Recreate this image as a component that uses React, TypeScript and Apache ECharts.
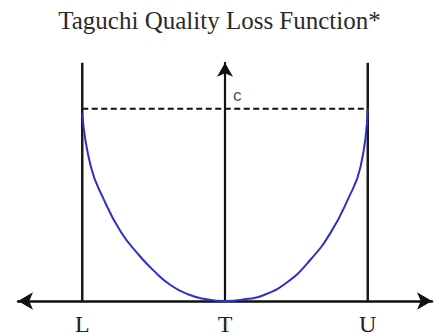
import React, { useEffect, useRef } from "react";
import * as echarts from "echarts";

const titleText = "Taguchi Quality Loss Function*";
const xTickValues = [-1, 0, 1];
const xTickLabels = ["L", "T", "U"];
const limitX = [-1, 1];
const cLevel = 1;
const limitTop = 1.24;
const curveX = [-1, -0.94, -0.85, -0.73, -0.61, -0.5, -0.38, -0.26, -0.15, 0, 0.15, 0.27, 0.44, 0.6, 0.74, 0.86, 0.95, 1];
const curveY = [0.975, 0.7, 0.53, 0.36, 0.245, 0.158, 0.082, 0.035, 0.012, 0, 0.01, 0.03, 0.1, 0.216, 0.356, 0.528, 0.7, 1.0];
const cLabel = "c";

export default function App() {
  const ref = useRef<HTMLDivElement>(null);
  useEffect(() => {
    if (!ref.current) return;
    const chart = echarts.init(ref.current, null, { renderer: "svg" });
    const serif = "'Liberation Serif', 'Times New Roman', serif";
    const limitSeries = limitX.map((x) => ({
      type: "line",
      data: [[x, 0], [x, limitTop]],
      symbol: "none",
      lineStyle: { color: "#1a1a1a", width: 2.5 },
      z: 3,
    }));
    chart.setOption({
      animation: false,
      title: {
        text: titleText,
        left: "center",
        top: 8,
        padding: 0,
        textStyle: { fontFamily: serif, fontSize: 25, fontWeight: "normal", color: "#2a2a2a" },
      },
      grid: { left: 18, right: 7, top: 62.75, bottom: 34.3 },
      xAxis: {
        type: "value",
        min: -1.45,
        max: 1.45,
        splitLine: { show: false },
        axisTick: { show: false },
        axisLine: {
          show: true,
          onZero: true,
          symbol: ["arrow", "arrow"],
          symbolSize: [13, 15],
          lineStyle: { color: "#111", width: 2.5 },
        },
        axisLabel: {
          show: true,
          customValues: xTickValues,
          margin: 11,
          fontFamily: serif,
          fontSize: 24,
          color: "#222",
          formatter: (v: number) => {
            const i = xTickValues.indexOf(v);
            return i >= 0 ? xTickLabels[i] : "";
          },
        },
      },
      yAxis: {
        type: "value",
        min: 0,
        max: limitTop,
        splitLine: { show: false },
        axisTick: { show: false },
        axisLabel: { show: false },
        axisLine: {
          show: true,
          onZero: true,
          symbol: ["none", "arrow"],
          symbolSize: [12, 14],
          lineStyle: { color: "#111", width: 2.2 },
        },
      },
      series: [
        ...limitSeries,
        {
          type: "line",
          data: [[limitX[0], cLevel], [limitX[1], cLevel]],
          symbol: "none",
          lineStyle: { color: "#111", width: 2, type: [6, 3.5] },
          z: 2,
        },
        {
          type: "line",
          data: curveX.map((x, i) => [x, curveY[i]]),
          symbol: "none",
          smooth: 0.5,
          lineStyle: { color: "#3030c8", width: 2 },
          z: 4,
        },
        {
          type: "scatter",
          data: [[0, cLevel]],
          symbolSize: 0,
          label: {
            show: true,
            formatter: cLabel,
            position: [8, -22],
            fontFamily: "'Liberation Sans', Arial, sans-serif",
            fontSize: 17,
            color: "#222",
          },
          z: 5,
        },
      ],
    });
    return () => chart.dispose();
  }, []);
  return (
    <div
      ref={ref}
      style={{ position: "absolute", left: 0, top: 0, width: 439, height: 336 }}
    />
  );
}
